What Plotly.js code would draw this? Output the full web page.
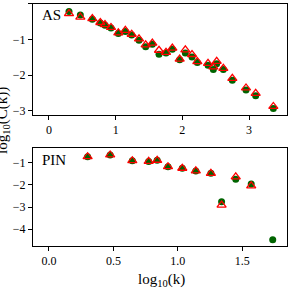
<!DOCTYPE html>
<html><head><meta charset="utf-8">
<script src="https://cdn.plot.ly/plotly-3.0.1.min.js"></script>
<style>html,body{margin:0;padding:0;background:#fff}#c{width:291px;height:291px}</style>
</head><body><div id="c"></div>
<script>
// AS panel
var asX = [0.30,0.47,0.65,0.77,0.84,0.93,1.04,1.145,1.24,1.35,1.45,1.55,1.65,1.755,1.85,1.96,2.045,2.145,2.225,2.385,2.465,2.515,2.615,2.75,2.955,3.10,3.365];
var asCirc = [-0.21,-0.31,-0.43,-0.535,-0.60,-0.675,-0.83,-0.775,-0.87,-1.02,-1.20,-1.13,-1.41,-1.375,-1.27,-1.57,-1.375,-1.49,-1.645,-1.72,-1.84,-1.68,-1.84,-2.14,-2.42,-2.58,-2.94];
var asTri  = [-0.27,-0.37,-0.41,-0.52,-0.58,-0.66,-0.81,-0.74,-0.85,-0.98,-1.15,-1.10,-1.30,-1.36,-1.24,-1.55,-1.29,-1.42,-1.62,-1.67,-1.77,-1.61,-1.81,-2.09,-2.36,-2.51,-2.88];
// PIN panel
var pinX = [0.30,0.475,0.647,0.774,0.84,0.924,1.035,1.14,1.257,1.34,1.45,1.57,1.737];
var pinCirc = [-0.73,-0.65,-0.91,-0.94,-0.89,-1.18,-1.25,-1.37,-1.48,-2.76,-1.75,-1.96,-4.47];
var pinTriX = [0.30,0.475,0.647,0.774,0.84,0.924,1.035,1.14,1.257,1.34,1.45,1.57];
var pinTri  = [-0.73,-0.65,-0.91,-0.94,-0.89,-1.18,-1.25,-1.37,-1.48,-2.91,-1.64,-2.04];

var circ = {symbol:'circle', size:7, color:'#006400'};
var tri = {symbol:'triangle-up-open', size:8, color:'#ff0000', line:{width:1.3, color:'#ff0000'}};
var data = [
  {x:asX, y:asCirc, mode:'markers', type:'scatter', marker:circ, xaxis:'x', yaxis:'y'},
  {x:asX, y:asTri, mode:'markers', type:'scatter', marker:tri, xaxis:'x', yaxis:'y'},
  {x:pinX, y:pinCirc, mode:'markers', type:'scatter', marker:circ, xaxis:'x2', yaxis:'y2'},
  {x:pinTriX, y:pinTri, mode:'markers', type:'scatter', marker:tri, xaxis:'x2', yaxis:'y2'}
];
var ax = {showline:true, mirror:true, linecolor:'#000', linewidth:1, ticks:'outside', ticklen:4, tickcolor:'#000', showgrid:false, zeroline:false, tickfont:{family:'Liberation Serif', size:12, color:'#000'}};
function A(o){return Object.assign({}, ax, o);}
var layout = {
  width:291, height:291, margin:{l:0,r:0,t:0,b:0}, showlegend:false,
  paper_bgcolor:'#fff', plot_bgcolor:'#fff',
  xaxis: A({domain:[0.1134,0.9863], range:[-0.24,3.57], dtick:1, tick0:0, anchor:'y'}),
  yaxis: A({domain:[0.6048,0.9863], range:[-3.12,0.0], dtick:1, tick0:0, anchor:'x'}),
  xaxis2: A({domain:[0.1134,0.9863], range:[-0.124,1.848], dtick:0.5, tick0:0, tickformat:'.1f', anchor:'y2'}),
  yaxis2: A({domain:[0.1557,0.4904], range:[-4.74,-0.35], dtick:1, tick0:0, anchor:'x2'}),
  annotations:[
    {text:'AS', xref:'paper', yref:'paper', x:40/291, y:1-15/291, xanchor:'left', yanchor:'middle', showarrow:false, font:{family:'Liberation Serif', size:15, color:'#000'}},
    {text:'PIN', xref:'paper', yref:'paper', x:40/291, y:1-160/291, xanchor:'left', yanchor:'middle', showarrow:false, font:{family:'Liberation Serif', size:15, color:'#000'}},
    {text:'log<sub>10</sub>(k)', xref:'paper', yref:'paper', x:161/291, y:1-280/291, xanchor:'center', yanchor:'middle', showarrow:false, font:{family:'Liberation Serif', size:15, color:'#000'}},
    {text:'log<sub>10</sub>(C(k))', xref:'paper', yref:'paper', x:3/291, y:1-121/291, xanchor:'center', yanchor:'middle', textangle:-90, showarrow:false, font:{family:'Liberation Serif', size:15, color:'#000'}}
  ]
};
Plotly.newPlot('c', data, layout, {displayModeBar:false, staticPlot:true});
</script></body></html>
